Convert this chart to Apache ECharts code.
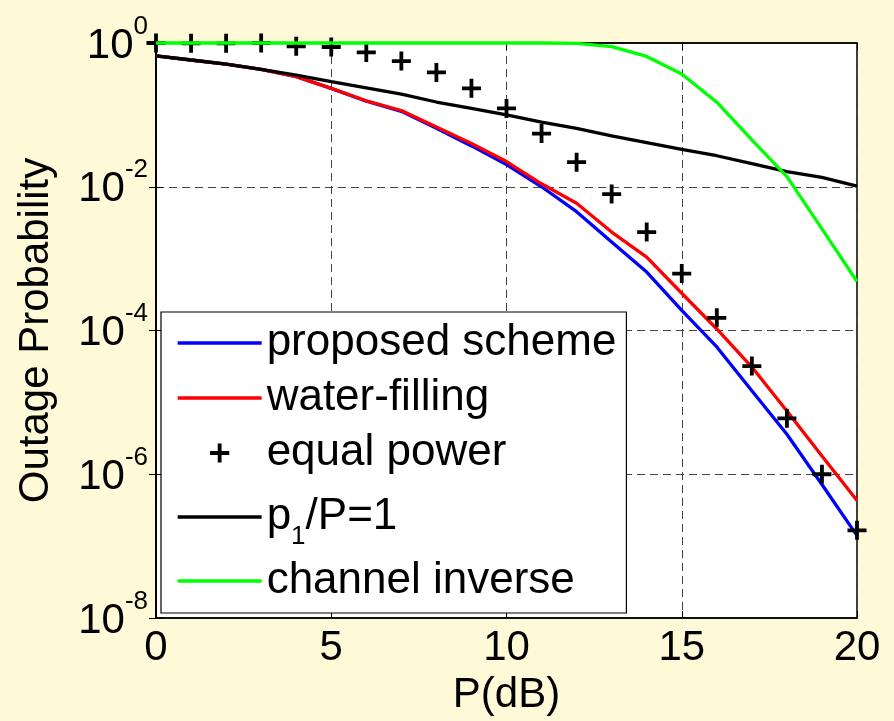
<!DOCTYPE html>
<html>
<head>
<meta charset="utf-8">
<script src="https://cdn.jsdelivr.net/npm/echarts@6/dist/echarts.min.js"></script>
<style>
html,body{margin:0;padding:0;background:#FEF9D6;}
#chart{width:894px;height:721px;}
</style>
</head>
<body>
<div id="chart"></div>
<script>
// ---- data ----
const powerDb = [0,1,2,3,4,5,6,7,8,9,10,11,12,13,14,15,16,17,18,19,20];
const proposedScheme = [0.66,0.58,0.51,0.43,0.34,0.234,0.155,0.112,0.065,0.037,0.0204,0.010,0.0045,0.0017,0.00065,0.00019,5.9e-5,1.45e-5,3.6e-6,7.2e-7,1.4e-7];
const waterFilling   = [0.66,0.58,0.51,0.43,0.34,0.234,0.157,0.115,0.068,0.040,0.0224,0.011,0.0059,0.00234,0.00105,0.00033,1.05e-4,3.1e-5,7.6e-6,1.8e-6,4.3e-7];
const equalPower     = [1.0,0.99,0.99,1.0,0.90,0.88,0.74,0.56,0.39,0.234,0.123,0.055,0.022,0.0079,0.00234,6.2e-4,1.5e-4,3.2e-5,6.0e-6,1.0e-6,1.66e-7];
const p1OverP        = [0.66,0.58,0.51,0.43,0.358,0.29,0.238,0.195,0.151,0.123,0.100,0.079,0.065,0.051,0.041,0.033,0.027,0.021,0.0162,0.0135,0.0102];
const channelInverse = [1,1,1,1,1,1,1,1,1,1,1,1,0.99,0.89,0.65,0.37,0.15,0.045,0.0138,0.0026,4.8e-4];
const xTicks = [0,5,10,15,20];
const yTickExponents = [0,-2,-4,-6,-8];
const seriesNames = ['proposed scheme','water-filling','equal power','p1/P=1','channel inverse'];

const FONT = "'Liberation Sans', Arial, Helvetica, sans-serif";
const plusPath = 'path://M7.6,0H11.4V7.6H19V11.4H11.4V19H7.6V11.4H0V7.6H7.6Z';
const pairs = arr => powerDb.map((x, i) => [x, arr[i]]);

const chart = echarts.init(document.getElementById('chart'), null, {renderer: 'canvas'});

const axisLineStyle = {color: '#000', width: 1.5};
const gridDash = {color: '#444', width: 1, type: [8, 5]};
const LW = 3.3;

const option = {
  backgroundColor: '#FEF9D6',
  animation: false,
  textStyle: {fontFamily: FONT},
  grid: {left: 156, right: 37, top: 43, bottom: 103, show: true, backgroundColor: '#ffffff', borderColor: '#000', borderWidth: 1.5},
  xAxis: [{
    type: 'value', min: xTicks[0], max: xTicks[xTicks.length - 1], interval: xTicks[1] - xTicks[0],
    position: 'bottom',
    axisLine: {show: true, lineStyle: axisLineStyle},
    axisTick: {show: true, inside: true, length: 7, lineStyle: {color: '#000', width: 1}},
    axisLabel: {fontSize: 42, color: '#000', margin: 9, fontFamily: FONT},
    splitLine: {show: true, lineStyle: gridDash},
    name: 'P(dB)', nameLocation: 'middle', nameGap: 56,
    nameTextStyle: {fontSize: 42, color: '#000', fontFamily: FONT}
  }, {
    type: 'value', min: xTicks[0], max: xTicks[xTicks.length - 1], interval: xTicks[1] - xTicks[0],
    position: 'top',
    axisLine: {show: true, lineStyle: axisLineStyle},
    axisTick: {show: true, inside: true, length: 7, lineStyle: {color: '#000', width: 1}},
    axisLabel: {show: false},
    splitLine: {show: false}
  }],
  yAxis: [{
    type: 'log', logBase: 10, min: Math.pow(10, yTickExponents[yTickExponents.length - 1]), max: Math.pow(10, yTickExponents[0]),
    interval: 2,
    position: 'left',
    axisLine: {show: true, lineStyle: axisLineStyle},
    axisTick: {show: true, inside: true, length: 7, lineStyle: {color: '#000', width: 1}},
    minorTick: {show: false},
    axisLabel: {
      margin: 8, showMaxLabel: true, showMinLabel: true,
      formatter: v => {
        const e = Math.round(Math.log10(v));
        return '{s|' + e + '}\n{b|10}{h|' + e + '}\n{e| }';
      },
      rich: {
        s: {fontSize: 26, lineHeight: 15, color: '#000', fontFamily: FONT},
        b: {fontSize: 42, lineHeight: 24, color: '#000', fontFamily: FONT},
        h: {fontSize: 26, lineHeight: 24, color: 'rgba(0,0,0,0)', fontFamily: FONT},
        e: {fontSize: 8, lineHeight: 9, color: 'rgba(0,0,0,0)', fontFamily: FONT}
      }
    },
    splitLine: {show: true, lineStyle: gridDash},
    name: 'Outage Probability', nameLocation: 'middle', nameGap: 99, nameRotate: 90,
    nameTextStyle: {fontSize: 42, color: '#000', fontFamily: FONT}
  }, {
    type: 'log', logBase: 10, min: Math.pow(10, yTickExponents[yTickExponents.length - 1]), max: Math.pow(10, yTickExponents[0]),
    interval: 2,
    position: 'right',
    axisLine: {show: true, lineStyle: axisLineStyle},
    axisTick: {show: true, inside: true, length: 7, lineStyle: {color: '#000', width: 1}},
    minorTick: {show: false},
    axisLabel: {show: false},
    splitLine: {show: false}
  }],
  legend: {
    orient: 'vertical', left: 161, top: 312,
    padding: [7, 10, 8, 15],
    backgroundColor: '#ffffff', borderColor: '#000', borderWidth: 1.2, borderRadius: 0,
    itemWidth: 84, itemHeight: 24, itemGap: 7,
    textStyle: {
      fontSize: 44, lineHeight: 48, color: '#000', fontFamily: FONT,
      rich: {
        p: {fontSize: 44, lineHeight: 66, verticalAlign: 'middle', color: '#000', fontFamily: FONT},
        sub: {fontSize: 26, lineHeight: 16, verticalAlign: 'bottom', color: '#000', fontFamily: FONT}
      }
    },
    formatter: name => name === 'p1/P=1' ? '{p|p}{sub|1}{p|/P=1}' : name,
    data: [
      {name: seriesNames[0], itemStyle: {opacity: 0}, lineStyle: {width: LW}},
      {name: seriesNames[1], itemStyle: {opacity: 0}, lineStyle: {width: LW}},
      {name: seriesNames[2], lineStyle: {width: 0, opacity: 0}},
      {name: seriesNames[3], itemStyle: {opacity: 0}, lineStyle: {width: LW}},
      {name: seriesNames[4], itemStyle: {opacity: 0}, lineStyle: {width: LW}}
    ]
  },
  series: [
    {name: seriesNames[0], type: 'line', data: pairs(proposedScheme), symbol: 'none', clip: false,
     lineStyle: {color: '#0000FF', width: LW}, itemStyle: {color: '#0000FF'}, z: 3},
    {name: seriesNames[1], type: 'line', data: pairs(waterFilling), symbol: 'none', clip: false,
     lineStyle: {color: '#FF0000', width: LW}, itemStyle: {color: '#FF0000'}, z: 3},
    {name: seriesNames[2], type: 'line', data: pairs(equalPower), symbol: plusPath, symbolSize: 19, showSymbol: true, clip: false,
     lineStyle: {width: 0, opacity: 0}, itemStyle: {color: '#000'}, z: 4},
    {name: seriesNames[3], type: 'line', data: pairs(p1OverP), symbol: 'none', clip: false,
     lineStyle: {color: '#000', width: LW}, itemStyle: {color: '#000'}, z: 3},
    {name: seriesNames[4], type: 'line', data: pairs(channelInverse), symbol: 'none', clip: false,
     lineStyle: {color: '#00FF00', width: LW}, itemStyle: {color: '#00FF00'}, z: 5}
  ]
};
chart.setOption(option);
</script>
</body>
</html>
